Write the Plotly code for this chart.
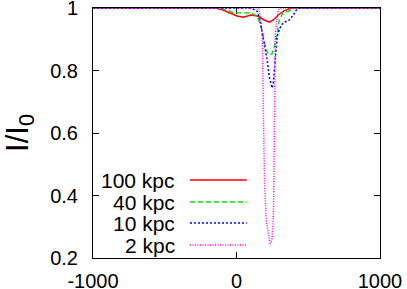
import plotly.graph_objects as go

# ---- data ----
red_x = [-1000, -144, -95, -39, 4, 46, 102, 151, 193, 228, 256, 291, 333, 382, 1000]
red_y = [1, 1, 0.994, 0.984, 0.975, 0.971, 0.978, 0.974, 0.962, 0.955, 0.962, 0.978, 0.992, 1, 1]

green_x = [-1000, -123, -74, -25, 32, 102, 144, 158, 172, 193, 207, 228, 249, 263, 284, 298, 326, 361, 403, 1000]
green_y = [1, 1, 0.995, 0.986, 0.984, 0.985, 0.975, 0.955, 0.94, 0.896, 0.866, 0.85, 0.855, 0.875, 0.92, 0.962, 0.987, 0.99, 1, 1]

blue_x = [-1000, 102, 144, 165, 179, 193, 214, 228, 242, 249, 256, 270, 284, 298, 312, 333, 368, 396, 417, 439, 1000]
blue_y = [1, 1, 0.99, 0.96, 0.92, 0.888, 0.834, 0.78, 0.75, 0.744, 0.76, 0.85, 0.91, 0.93, 0.946, 0.955, 0.962, 0.978, 0.994, 1, 1]

mag_x = [-1000, 144, 158, 179, 184, 195, 207, 226, 235, 247, 256, 261, 268, 270, 291, 305, 1000]
mag_y = [1, 1, 0.994, 0.92, 0.77, 0.45, 0.32, 0.258, 0.243, 0.258, 0.32, 0.45, 0.77, 0.92, 0.994, 1, 1]

labels = ["100 kpc", "40 kpc", "10 kpc", "2 kpc"]
colors = ["#ff0000", "#11dd11", "#0000ff", "#ff00ff"]
dashes = ["solid", "5px,3px", "2px,2px", "1px,1.5px"]
xs = [red_x, green_x, blue_x, mag_x]
ys = [red_y, green_y, blue_y, mag_y]

x_ticks = [-1000, 0, 1000]
x_ticklabels = ["-1000", "0", "1000"]
y_ticks = [0.2, 0.4, 0.6, 0.8, 1.0]
y_ticklabels = ["0.2", "0.4", "0.6", "0.8", "1"]

FONT = "Liberation Sans, Arial, sans-serif"

fig = go.Figure()
for x, y, c, d, name in zip(xs, ys, colors, dashes, labels):
    fig.add_trace(go.Scatter(x=x, y=y, mode="lines", name=name,
                             line=dict(color=c, width=1.5, dash=d),
                             showlegend=False, hoverinfo="skip"))

# gnuplot-style key: text right-aligned, sample line to the right
key_y = [0.312, 0.224, 0.140, 0.052]
for name, c, d, ky in zip(labels, colors, dashes, key_y):
    fig.add_annotation(x=0.293, y=ky, xref="paper", yref="paper",
                       text=name, showarrow=False, xanchor="right", yanchor="middle",
                       font=dict(family=FONT, size=21, color="black"))
    fig.add_shape(type="line", xref="paper", yref="paper",
                  x0=0.338, x1=0.536, y0=ky, y1=ky,
                  line=dict(color=c, width=1.5, dash=d))

axis_common = dict(showline=True, linecolor="black", linewidth=1, mirror="ticks",
                   ticks="inside", ticklen=6, tickcolor="black", showgrid=False,
                   zeroline=False, tickfont=dict(family=FONT, size=20, color="black"),
                   layer="below traces", automargin=False, ticklabeloverflow="allow")

fig.update_xaxes(range=[-1000, 1000], tickvals=x_ticks, ticktext=x_ticklabels,
                 ticklabelstandoff=5, **axis_common)
fig.update_yaxes(range=[0.1999, 1.0004], tickvals=y_ticks, ticktext=y_ticklabels,
                 ticklabelstandoff=10,
                 title=dict(text="I/I<sub>0</sub>", font=dict(family=FONT, size=31, color="black"),
                            standoff=16),
                 **axis_common)

fig.update_layout(width=407, height=289,
                  margin=dict(l=93, r=27, t=8, b=31),
                  paper_bgcolor="white", plot_bgcolor="white",
                  font=dict(family=FONT, color="black"))

fig.write_html("out.html", config={"displayModeBar": False},
               post_script="document.body.style.margin='0';document.body.style.overflow='hidden';")
